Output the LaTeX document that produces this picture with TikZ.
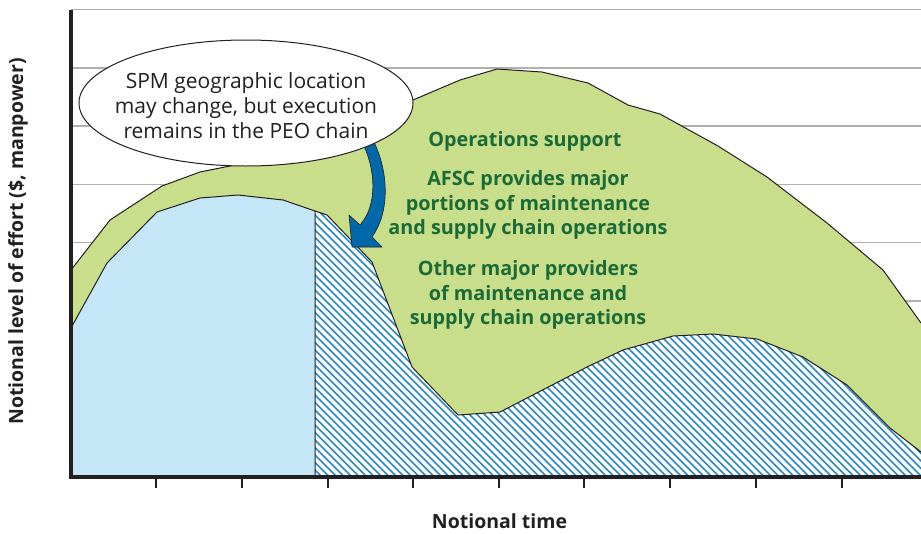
\documentclass[tikz,border=0pt]{standalone}
\usepackage{fontspec}
\setmainfont{Open Sans}
\usetikzlibrary{shapes.geometric}
\definecolor{greenfill}{HTML}{C8DE8A}
\definecolor{lightblue}{HTML}{C4E6F6}
\definecolor{textgreen}{HTML}{1B6B38}
\definecolor{arrowblue}{HTML}{0068A8}
\definecolor{hatchblue}{HTML}{2A88C8}
\definecolor{gridgray}{HTML}{B0B0B0}
\definecolor{axisdark}{HTML}{231F20}
\tikzset{
  gridline/.style={draw=gridgray, line width=1.4pt},
  outline/.style={draw=axisdark, line width=1pt, line join=round},
  hatchline/.style={draw=hatchblue, line width=1.6pt},
  axisline/.style={draw=axisdark, line width=3.5pt},
  tickline/.style={draw=axisdark, line width=1.2pt},
  bubbletext/.style={align=center, font=\fontsize{21}{25}\selectfont, text=axisdark},
  greentext/.style={align=center, font=\bfseries\fontsize{19.8}{24.5}\selectfont, text=textgreen},
  axislabel/.style={font=\bfseries\fontsize{19.5}{22}\selectfont, text=axisdark},
}
\begin{document}
\begin{tikzpicture}[x=1pt,y=-1pt]
\useasboundingbox (0,0) rectangle (921,533);
% grid
\foreach \g in {9.5,67.8,126.1,184.4,242.7,301,359.3,417.6}
  \draw[gridline] (71,\g) -- (921,\g);
% green area
\fill[greenfill] (71,270) -- (110,220) -- (162,186) -- (200,172) -- (260,160) -- (330,135) -- (413,100) -- (460,80) -- (497,69) -- (542,72) -- (588,83) -- (628,105) -- (660,114) -- (718,146) -- (767,177) -- (827,223) -- (883,270) -- (921,323) -- (921,477) -- (71,477) -- cycle;
\draw[outline] (71,270) -- (110,220) -- (162,186) -- (200,172) -- (260,160) -- (330,135) -- (413,100) -- (460,80) -- (497,69) -- (542,72) -- (588,83) -- (628,105) -- (660,114) -- (718,146) -- (767,177) -- (827,223) -- (883,270) -- (921,323);
% light blue area
\fill[lightblue] (71,328) -- (107,263) -- (157,212) -- (200,198) -- (238,195) -- (283,200) -- (315,211) -- (315,477) -- (71,477) -- cycle;
\draw[outline] (71,328) -- (107,263) -- (157,212) -- (200,198) -- (238,195) -- (283,200) -- (315,211);
% hatched area
\fill[white] (315,211) -- (327,215) -- (372,262) -- (412,367) -- (458,415) -- (500,412) -- (587,367) -- (623,350) -- (673,336) -- (713,334) -- (757,339) -- (803,357) -- (847,385) -- (890,428) -- (921,452) -- (921,477) -- (315,477) -- cycle;
\begin{scope}
\clip (315,211) -- (327,215) -- (372,262) -- (412,367) -- (458,415) -- (500,412) -- (587,367) -- (623,350) -- (673,336) -- (713,334) -- (757,339) -- (803,357) -- (847,385) -- (890,428) -- (921,452) -- (921,477) -- (315,477) -- cycle;
\foreach \i in {30,37.5,...,930}
  \draw[hatchline] (\i,200) -- ++(290,290);
\end{scope}
\draw[outline] (315,477) -- (315,211) -- (327,215) -- (372,262) -- (412,367) -- (458,415) -- (500,412) -- (587,367) -- (623,350) -- (673,336) -- (713,334) -- (757,339) -- (803,357) -- (847,385) -- (890,428) -- (921,452);
% axes
\coordinate (origin) at (71,477);
\coordinate (ytop) at (71,9.5);
\coordinate (xend) at (921,477);
\draw[axisline] (ytop) -- (origin) -- (xend);
\foreach \t in {156,242,328,413,499,584,670,756,842}
  \draw[tickline] (\t,477) -- (\t,488);
% arrow
\filldraw[fill=arrowblue, draw=axisdark, line width=0.6pt, line join=round] (361,140) .. controls (376,168) and (378,205) .. (360,225) -- (349,215) -- (352,247) -- (382,247) -- (372,237) .. controls (390,212) and (389,172) .. (373,140) -- cycle;
% bubble
\node[ellipse, draw=axisdark, line width=1pt, fill=white, minimum width=334pt, minimum height=126pt, inner sep=0pt] (bubble) at (246,103) {};
\node[bubbletext] (spm) at (246,105.5) {SPM geographic location\\may change, but execution\\remains in the PEO chain};
% green texts
\node[greentext] (ops) at (525,141.5) {Operations support};
\node[greentext] (afsc) at (528,205) {AFSC provides major\\portions of maintenance\\and supply chain operations};
\node[greentext] (other) at (528,295) {Other major providers\\of maintenance and\\supply chain operations};
% axis labels
\node[axislabel] (xlab) at (499.5,521) {Notional time};
\node[axislabel, rotate=90] (ylab) at (18,241.5) {Notional level of effort (\$, manpower)};
\end{tikzpicture}
\end{document}
